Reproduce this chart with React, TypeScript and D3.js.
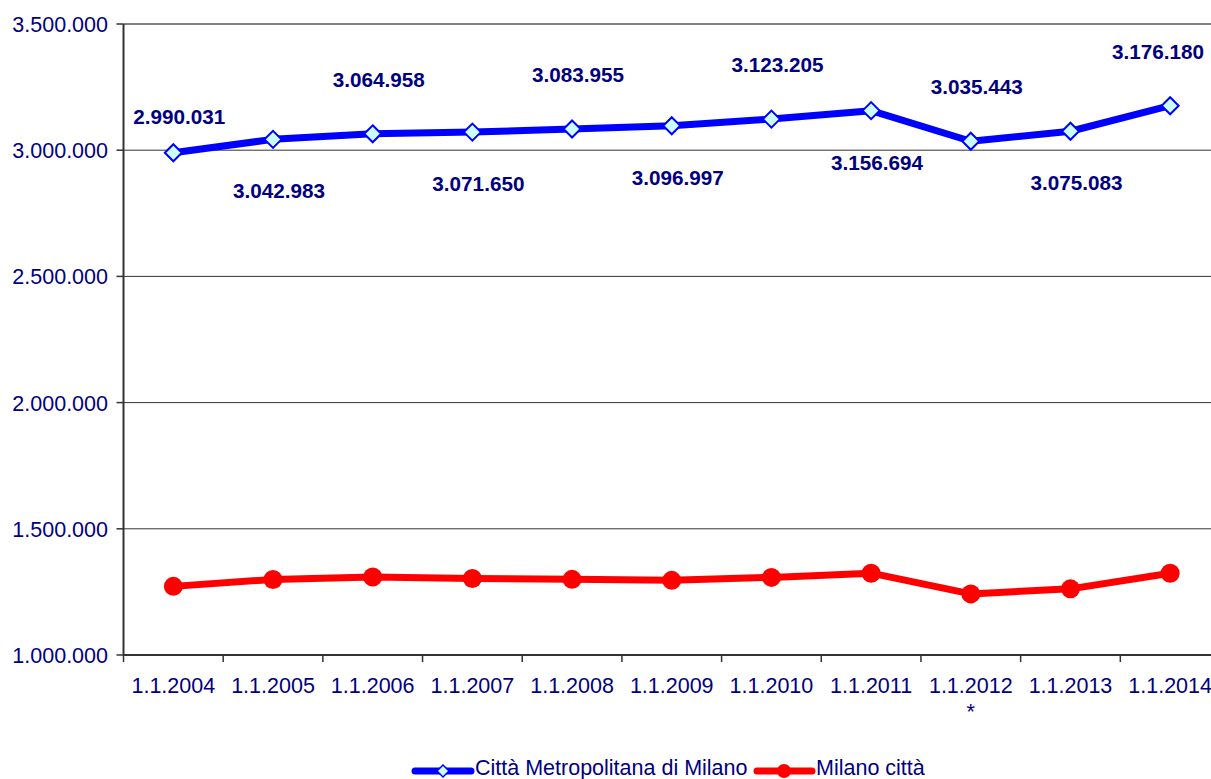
import React from 'react';
import * as d3 from 'd3';

const categories = ['1.1.2004', '1.1.2005', '1.1.2006', '1.1.2007', '1.1.2008', '1.1.2009', '1.1.2010', '1.1.2011', '1.1.2012', '1.1.2013', '1.1.2014'];
const categoryNotes = ['', '', '', '', '', '', '', '', '*', '', ''];
const metroValues = [2990031, 3042983, 3064958, 3071650, 3083955, 3096997, 3123205, 3156694, 3035443, 3075083, 3176180];
const cityValues = [1271898, 1299439, 1308735, 1303437, 1299633, 1295705, 1307495, 1324110, 1242123, 1262101, 1324169];
const yTicks = [1000000, 1500000, 2000000, 2500000, 3000000, 3500000];
const seriesNames = ['Città Metropolitana di Milano', 'Milano città'];

const fmt = (v: number) => d3.format(',')(v).replace(/,/g, '.');

const App: React.FC = () => {
  const width = 1211;
  const height = 779;
  const margin = { top: 24, right: -9, bottom: 124, left: 123.5 };
  const font = '"Liberation Sans", Arial, sans-serif';
  const navy = '#000080';
  const fs = 21.5;

  const xScale = d3.scaleBand<string>()
    .domain(categories)
    .range([margin.left, width - margin.right])
    .padding(0);
  const bw = xScale.bandwidth();
  const cx = (i: number) => (xScale(categories[i]) ?? 0) + bw / 2;

  const yScale = d3.scaleLinear()
    .domain([1000000, 3500000])
    .range([height - margin.bottom, margin.top]);

  const line = d3.line<number>()
    .x((_, i) => cx(i))
    .y(d => yScale(d));

  const diamond = (x: number, y: number, r: number) => `M${x},${y - r}L${x + r},${y}L${x},${y + r}L${x - r},${y}Z`;

  const baseY = yScale(1000000);
  const legY = 771;

  return (
    <svg width={width} height={height} style={{ position: 'absolute', left: 0, top: 0, background: '#fff' }} fontFamily={font}>
      {/* grid */}
      {yTicks.filter(t => t > 1000000).map(t => (
        <line key={t} x1={margin.left} x2={width} y1={yScale(t)} y2={yScale(t)}
          stroke={t === 3500000 ? '#808080' : '#333'} strokeWidth={t === 3500000 ? 2 : 1} />
      ))}

      {/* y axis */}
      <line x1={margin.left} x2={margin.left} y1={margin.top} y2={baseY} stroke="#333" strokeWidth={2} />
      {yTicks.map(t => (
        <g key={t}>
          <line x1={margin.left - 7} x2={margin.left} y1={yScale(t)} y2={yScale(t)} stroke="#333" strokeWidth={1.5} />
          <text x={108} y={yScale(t) + 8} textAnchor="end" fontSize={fs} fill={navy}>{fmt(t)}</text>
        </g>
      ))}

      {/* x axis */}
      <line x1={margin.left} x2={width} y1={baseY} y2={baseY} stroke="#333" strokeWidth={2} />
      {categories.map((c, i) => (
        <g key={c}>
          <line x1={xScale(c)} x2={xScale(c)} y1={baseY} y2={baseY + 7} stroke="#333" strokeWidth={1.5} />
          <text x={cx(i)} y={693} textAnchor="middle" fontSize={fs} fill={navy}>{c}</text>
          {categoryNotes[i] && <text x={cx(i)} y={719} textAnchor="middle" fontSize={fs} fill={navy}>{categoryNotes[i]}</text>}
        </g>
      ))}

      {/* Milano città */}
      <path d={line(cityValues) || ''} fill="none" stroke="#ff0000" strokeWidth={7} strokeLinejoin="round" />
      {cityValues.map((v, i) => (
        <circle key={i} cx={cx(i)} cy={yScale(v)} r={9.5} fill="#ff0000" />
      ))}

      {/* Città Metropolitana */}
      <path d={line(metroValues) || ''} fill="none" stroke="#0000ff" strokeWidth={7} strokeLinejoin="round" />
      {metroValues.map((v, i) => (
        <path key={i} d={diamond(cx(i), yScale(v), 8.5)} fill="#ccffff" stroke="#0000ff" strokeWidth={2} />
      ))}
      {metroValues.map((v, i) => {
        const above = i % 2 === 0;
        const y = yScale(v) + (above ? (i === 0 ? -36 : -54) : 52) + 7;
        let x = cx(i) + 6;
        if (x + 47 > 1205) x = 1205 - 47;
        return (
          <text key={i} x={x} y={y} textAnchor="middle" fontSize={20.7} fontWeight="bold" fill={navy}>{fmt(v)}</text>
        );
      })}

      {/* legend */}
      <g>
        <line x1={415} x2={471} y1={legY} y2={legY} stroke="#0000ff" strokeWidth={7} strokeLinecap="round" />
        <path d={diamond(443, legY, 6)} fill="#ccffff" stroke="#0000ff" strokeWidth={1.5} />
        <text x={475} y={775} fontSize={fs} fill={navy}>{seriesNames[0]}</text>
        <line x1={757} x2={812} y1={legY} y2={legY} stroke="#ff0000" strokeWidth={7} strokeLinecap="round" />
        <circle cx={784} cy={legY} r={7} fill="#ff0000" />
        <text x={816} y={775} fontSize={fs} fill={navy}>{seriesNames[1]}</text>
      </g>
    </svg>
  );
};

export default App;
